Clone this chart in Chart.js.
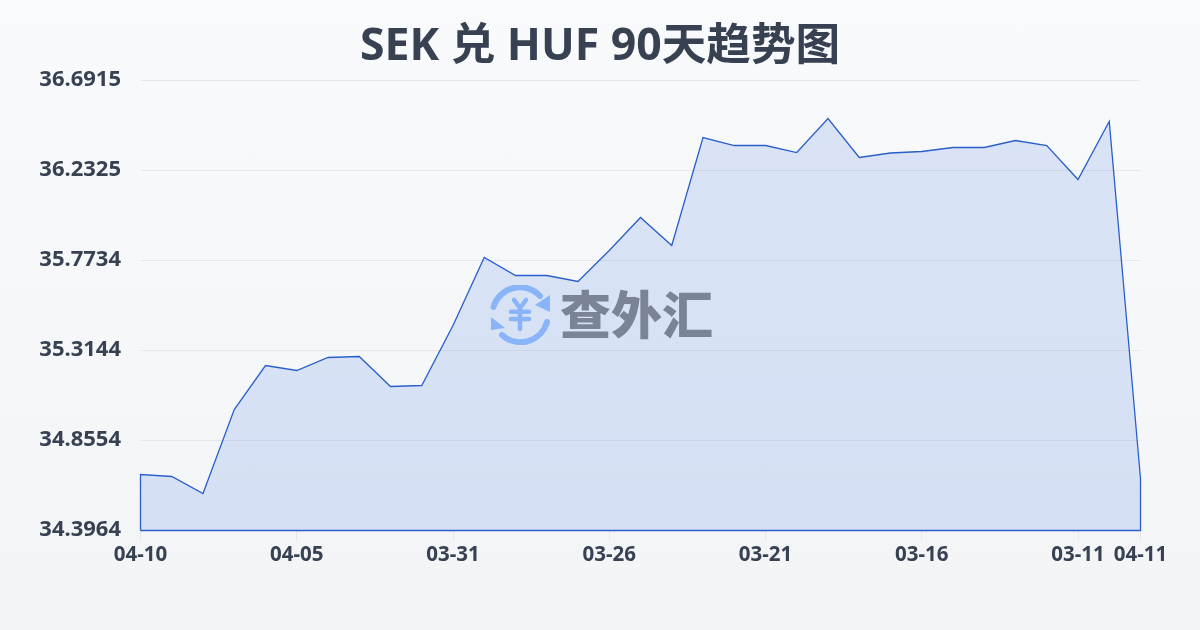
<!DOCTYPE html>
<html>
<head>
<meta charset="utf-8">
<title>SEK 兑 HUF 90天趋势图</title>
<script src="https://cdn.jsdelivr.net/npm/chart.js@4"></script>
<style>
    html, body { margin: 0; padding: 0; }
    body { width: 1200px; height: 630px; overflow: hidden; background: linear-gradient(180deg, #f9fafb, #f3f4f6); }
    #wrap { position: relative; width: 1200px; height: 630px; }
    #logo { position: absolute; left: 490px; top: 285px; }
    #logoText { position: absolute; left: 560px; top: 276px; font: 900 51px/72px "Noto Sans CJK SC", sans-serif; color: #7b8497; white-space: nowrap; }
</style>
</head>
<body>
<div id="wrap">
    <canvas id="chart" width="1200" height="630"></canvas>
    <svg id="logo" width="60" height="60" viewBox="0 0 60 60" fill="none" stroke="#8ab4f8" stroke-linecap="round" stroke-linejoin="round">
        <path d="M3.5 22 A27.5 27.5 0 0 1 50 11" stroke-width="6"/>
        <path d="M57 37 A27.5 27.5 0 0 1 12 50" stroke-width="6"/>
        <path d="M60 10 L60 27 L45 20 Z" fill="#8ab4f8" stroke="none"/>
        <path d="M1 32 L1 45 L15 43 Z" fill="#8ab4f8" stroke="none"/>
        <path d="M24 15 L30 23 L36 15 M21 26.7 H39 M21 34 H39 M30 23 V44" stroke-width="4.5"/>
    </svg>
    <div id="logoText">查外汇</div>
</div>
<script>
// Data
const dates = ['04-10','04-09','04-08','04-07','04-06','04-05','04-04','04-03','04-02','04-01','03-31',
    '03-30','03-29','03-28','03-27','03-26','03-25','03-24','03-23','03-22','03-21',
    '03-20','03-19','03-18','03-17','03-16','03-15','03-14','03-13','03-12','03-11','03-10','04-11'];
const rates = [34.6820,34.6718,34.5851,35.0135,35.2379,35.2124,35.2787,35.2838,35.1308,35.1359,35.4419,
    35.7887,35.6969,35.6969,35.6663,35.8244,35.9927,35.8499,36.4007,36.3599,36.3599,
    36.3242,36.4976,36.2987,36.3217,36.3293,36.3498,36.3498,36.3854,36.3599,36.1865,36.4823,34.6616];
const yTicks = [34.3964,34.8554,35.3144,35.7734,36.2325,36.6915];
const xTicks = [0,5,10,15,20,25,30,32];

const textColor = '#374151';
const lineColor = '#2a5fc9';
const fontFamily = '"Noto Sans", "Noto Sans CJK SC", sans-serif';

let yMin = yTicks[0];
let yMax = yTicks[yTicks.length - 1];
let points = rates.map((v, i) => ({x: i, y: v}));

// The outline runs down both sides and along the bottom too
let outline = [{x: 0, y: yMin}].concat(points, [{x: rates.length - 1, y: yMin}, {x: 0, y: yMin}]);

new Chart(document.getElementById('chart'), {
    type: 'line',
    data: {
        datasets: [
            {
                data: points,
                fill: 'origin',
                backgroundColor: 'rgba(37,99,225,0.14)',
                borderWidth: 0,
                pointRadius: 0,
                tension: 0
            },
            {
                data: outline,
                fill: false,
                clip: false,
                borderColor: lineColor,
                borderWidth: 1.3,
                pointRadius: 0,
                tension: 0
            }
        ]
    },
    options: {
        responsive: false,
        animation: false,
        plugins: {
            legend: { display: false },
            tooltip: { enabled: false },
            title: {
                display: true,
                text: 'SEK 兑 HUF 90天趋势图',
                color: textColor,
                font: { family: fontFamily, size: 44.6, weight: 'bold', lineHeight: 54 / 44.6 },
                padding: { top: 20, bottom: 6.5 }
            }
        },
        scales: {
            x: {
                type: 'linear',
                min: 0,
                max: rates.length - 1,
                afterBuildTicks: function(axis) {
                    axis.ticks = xTicks.map(v => ({value: v}));
                },
                afterFit: function(axis) { axis.height = 99.5; },
                grid: { display: true, drawOnChartArea: false, color: '#e5e7eb', tickLength: 10 },
                border: { display: false },
                ticks: {
                    autoSkip: false,
                    maxRotation: 0,
                    padding: 2,
                    color: textColor,
                    font: { family: fontFamily, size: 20.5, weight: 'bold' },
                    callback: function(value) { return dates[value]; }
                }
            },
            y: {
                min: yMin,
                max: yMax,
                afterBuildTicks: function(axis) {
                    axis.ticks = yTicks.map(v => ({value: v}));
                },
                afterFit: function(axis) { axis.width = 140.5; },
                grid: { color: '#e5e7eb', drawTicks: false },
                border: { display: false },
                ticks: {
                    padding: 19.5,
                    color: textColor,
                    // empty 2nd line with a 2px line height lifts the label 1px
                    font: { family: fontFamily, size: 22, weight: 'bold', lineHeight: '2px' },
                    callback: function(value) { return [value.toFixed(4), '']; }
                }
            },
            // empty axis on the right, keeps the title centred on the page
            spacer: {
                position: 'right',
                afterFit: function(axis) { axis.width = 59.5; },
                grid: { display: false },
                border: { display: false },
                ticks: { display: false }
            }
        }
    }
});
</script>
</body>
</html>
